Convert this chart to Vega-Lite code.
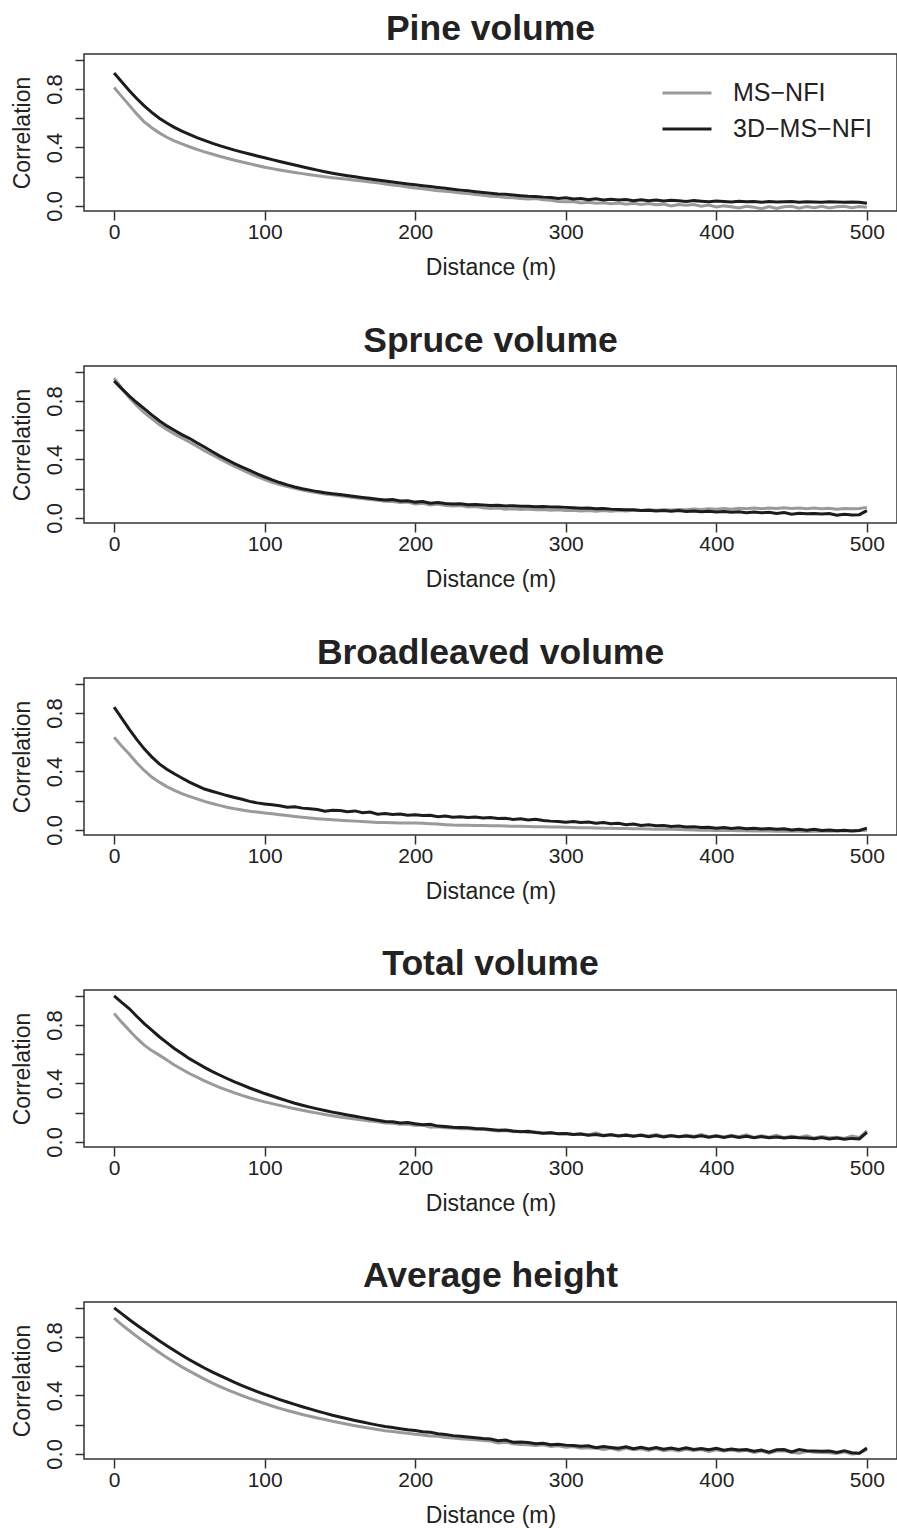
{
  "$schema": "https://vega.github.io/schema/vega-lite/v6.json",
  "padding": {"left": 10, "top": 10, "right": 0, "bottom": 0},
  "background": "white",
  "config": {
    "font": "Liberation Sans",
    "view": {"stroke": "#333333", "strokeWidth": 1.5},
    "axis": {"grid": false, "domain": false, "tickColor": "#333333", "tickWidth": 1.5, "tickSize": 9, "labelColor": "#222222", "titleColor": "#222222", "labelFontSize": 21, "titleFontSize": 23, "titleFontWeight": "normal", "labelFont": "Liberation Sans", "titleFont": "Liberation Sans", "labelFlush": false},
    "title": {"fontSize": 35.5, "fontWeight": "bold", "font": "Liberation Sans", "color": "#222222", "anchor": "middle", "baseline": "alphabetic", "offset": 7},
    "line": {"strokeWidth": 3}
  },
  "spacing": 42,
  "resolve": {"legend": {"color": "independent"}},
  "datasets": {
    "pine": [
      {"d":0,"s":"MS−NFI","r":0.81},{"d":5,"s":"MS−NFI","r":0.75},{"d":10,"s":"MS−NFI","r":0.69},{"d":15,"s":"MS−NFI","r":0.63},{"d":20,"s":"MS−NFI","r":0.575},{"d":25,"s":"MS−NFI","r":0.535},{"d":30,"s":"MS−NFI","r":0.5},{"d":35,"s":"MS−NFI","r":0.47},{"d":40,"s":"MS−NFI","r":0.445},{"d":45,"s":"MS−NFI","r":0.425},{"d":50,"s":"MS−NFI","r":0.405},{"d":55,"s":"MS−NFI","r":0.387},{"d":60,"s":"MS−NFI","r":0.37},{"d":65,"s":"MS−NFI","r":0.355},{"d":70,"s":"MS−NFI","r":0.34},{"d":75,"s":"MS−NFI","r":0.326},{"d":80,"s":"MS−NFI","r":0.312},{"d":85,"s":"MS−NFI","r":0.3},{"d":90,"s":"MS−NFI","r":0.288},{"d":95,"s":"MS−NFI","r":0.276},{"d":100,"s":"MS−NFI","r":0.265},{"d":105,"s":"MS−NFI","r":0.255},{"d":110,"s":"MS−NFI","r":0.246},{"d":115,"s":"MS−NFI","r":0.237},{"d":120,"s":"MS−NFI","r":0.229},{"d":125,"s":"MS−NFI","r":0.221},{"d":130,"s":"MS−NFI","r":0.213},{"d":135,"s":"MS−NFI","r":0.206},{"d":140,"s":"MS−NFI","r":0.199},{"d":145,"s":"MS−NFI","r":0.193},{"d":150,"s":"MS−NFI","r":0.188},{"d":155,"s":"MS−NFI","r":0.182},{"d":160,"s":"MS−NFI","r":0.176},{"d":165,"s":"MS−NFI","r":0.17},{"d":170,"s":"MS−NFI","r":0.163},{"d":175,"s":"MS−NFI","r":0.158},{"d":180,"s":"MS−NFI","r":0.15},{"d":185,"s":"MS−NFI","r":0.143},{"d":190,"s":"MS−NFI","r":0.137},{"d":195,"s":"MS−NFI","r":0.129},{"d":200,"s":"MS−NFI","r":0.122},{"d":205,"s":"MS−NFI","r":0.118},{"d":210,"s":"MS−NFI","r":0.11},{"d":215,"s":"MS−NFI","r":0.104},{"d":220,"s":"MS−NFI","r":0.1},{"d":225,"s":"MS−NFI","r":0.095},{"d":230,"s":"MS−NFI","r":0.088},{"d":235,"s":"MS−NFI","r":0.084},{"d":240,"s":"MS−NFI","r":0.078},{"d":245,"s":"MS−NFI","r":0.072},{"d":250,"s":"MS−NFI","r":0.066},{"d":255,"s":"MS−NFI","r":0.064},{"d":260,"s":"MS−NFI","r":0.058},{"d":265,"s":"MS−NFI","r":0.055},{"d":270,"s":"MS−NFI","r":0.05},{"d":275,"s":"MS−NFI","r":0.048},{"d":280,"s":"MS−NFI","r":0.05},{"d":285,"s":"MS−NFI","r":0.042},{"d":290,"s":"MS−NFI","r":0.038},{"d":295,"s":"MS−NFI","r":0.03},{"d":300,"s":"MS−NFI","r":0.028},{"d":305,"s":"MS−NFI","r":0.03},{"d":310,"s":"MS−NFI","r":0.02},{"d":315,"s":"MS−NFI","r":0.025},{"d":320,"s":"MS−NFI","r":0.018},{"d":325,"s":"MS−NFI","r":0.022},{"d":330,"s":"MS−NFI","r":0.015},{"d":335,"s":"MS−NFI","r":0.02},{"d":340,"s":"MS−NFI","r":0.012},{"d":345,"s":"MS−NFI","r":0.018},{"d":350,"s":"MS−NFI","r":0.01},{"d":355,"s":"MS−NFI","r":0.016},{"d":360,"s":"MS−NFI","r":0.008},{"d":365,"s":"MS−NFI","r":0.012},{"d":370,"s":"MS−NFI","r":0.0},{"d":375,"s":"MS−NFI","r":0.01},{"d":380,"s":"MS−NFI","r":0.004},{"d":385,"s":"MS−NFI","r":0.01},{"d":390,"s":"MS−NFI","r":-0.002},{"d":395,"s":"MS−NFI","r":0.006},{"d":400,"s":"MS−NFI","r":-0.008},{"d":405,"s":"MS−NFI","r":0.0},{"d":410,"s":"MS−NFI","r":-0.006},{"d":415,"s":"MS−NFI","r":-0.015},{"d":420,"s":"MS−NFI","r":-0.002},{"d":425,"s":"MS−NFI","r":-0.01},{"d":430,"s":"MS−NFI","r":-0.02},{"d":435,"s":"MS−NFI","r":-0.004},{"d":440,"s":"MS−NFI","r":-0.018},{"d":445,"s":"MS−NFI","r":-0.006},{"d":450,"s":"MS−NFI","r":-0.002},{"d":455,"s":"MS−NFI","r":-0.016},{"d":460,"s":"MS−NFI","r":-0.005},{"d":465,"s":"MS−NFI","r":-0.012},{"d":470,"s":"MS−NFI","r":-0.002},{"d":475,"s":"MS−NFI","r":-0.014},{"d":480,"s":"MS−NFI","r":-0.006},{"d":485,"s":"MS−NFI","r":-0.002},{"d":490,"s":"MS−NFI","r":-0.012},{"d":495,"s":"MS−NFI","r":-0.004},{"d":500,"s":"MS−NFI","r":-0.01},
      {"d":0,"s":"3D−MS−NFI","r":0.91},{"d":5,"s":"3D−MS−NFI","r":0.85},{"d":10,"s":"3D−MS−NFI","r":0.79},{"d":15,"s":"3D−MS−NFI","r":0.735},{"d":20,"s":"3D−MS−NFI","r":0.685},{"d":25,"s":"3D−MS−NFI","r":0.64},{"d":30,"s":"3D−MS−NFI","r":0.6},{"d":35,"s":"3D−MS−NFI","r":0.567},{"d":40,"s":"3D−MS−NFI","r":0.538},{"d":45,"s":"3D−MS−NFI","r":0.512},{"d":50,"s":"3D−MS−NFI","r":0.49},{"d":55,"s":"3D−MS−NFI","r":0.468},{"d":60,"s":"3D−MS−NFI","r":0.448},{"d":65,"s":"3D−MS−NFI","r":0.43},{"d":70,"s":"3D−MS−NFI","r":0.413},{"d":75,"s":"3D−MS−NFI","r":0.397},{"d":80,"s":"3D−MS−NFI","r":0.382},{"d":85,"s":"3D−MS−NFI","r":0.368},{"d":90,"s":"3D−MS−NFI","r":0.355},{"d":95,"s":"3D−MS−NFI","r":0.342},{"d":100,"s":"3D−MS−NFI","r":0.33},{"d":105,"s":"3D−MS−NFI","r":0.317},{"d":110,"s":"3D−MS−NFI","r":0.304},{"d":115,"s":"3D−MS−NFI","r":0.292},{"d":120,"s":"3D−MS−NFI","r":0.28},{"d":125,"s":"3D−MS−NFI","r":0.268},{"d":130,"s":"3D−MS−NFI","r":0.256},{"d":135,"s":"3D−MS−NFI","r":0.245},{"d":140,"s":"3D−MS−NFI","r":0.234},{"d":145,"s":"3D−MS−NFI","r":0.224},{"d":150,"s":"3D−MS−NFI","r":0.215},{"d":155,"s":"3D−MS−NFI","r":0.207},{"d":160,"s":"3D−MS−NFI","r":0.199},{"d":165,"s":"3D−MS−NFI","r":0.191},{"d":170,"s":"3D−MS−NFI","r":0.184},{"d":175,"s":"3D−MS−NFI","r":0.177},{"d":180,"s":"3D−MS−NFI","r":0.17},{"d":185,"s":"3D−MS−NFI","r":0.163},{"d":190,"s":"3D−MS−NFI","r":0.156},{"d":195,"s":"3D−MS−NFI","r":0.15},{"d":200,"s":"3D−MS−NFI","r":0.144},{"d":205,"s":"3D−MS−NFI","r":0.138},{"d":210,"s":"3D−MS−NFI","r":0.132},{"d":215,"s":"3D−MS−NFI","r":0.126},{"d":220,"s":"3D−MS−NFI","r":0.12},{"d":225,"s":"3D−MS−NFI","r":0.114},{"d":230,"s":"3D−MS−NFI","r":0.108},{"d":235,"s":"3D−MS−NFI","r":0.103},{"d":240,"s":"3D−MS−NFI","r":0.097},{"d":245,"s":"3D−MS−NFI","r":0.092},{"d":250,"s":"3D−MS−NFI","r":0.087},{"d":255,"s":"3D−MS−NFI","r":0.082},{"d":260,"s":"3D−MS−NFI","r":0.079},{"d":265,"s":"3D−MS−NFI","r":0.074},{"d":270,"s":"3D−MS−NFI","r":0.07},{"d":275,"s":"3D−MS−NFI","r":0.066},{"d":280,"s":"3D−MS−NFI","r":0.064},{"d":285,"s":"3D−MS−NFI","r":0.06},{"d":290,"s":"3D−MS−NFI","r":0.058},{"d":295,"s":"3D−MS−NFI","r":0.05},{"d":300,"s":"3D−MS−NFI","r":0.055},{"d":305,"s":"3D−MS−NFI","r":0.048},{"d":310,"s":"3D−MS−NFI","r":0.05},{"d":315,"s":"3D−MS−NFI","r":0.042},{"d":320,"s":"3D−MS−NFI","r":0.048},{"d":325,"s":"3D−MS−NFI","r":0.04},{"d":330,"s":"3D−MS−NFI","r":0.045},{"d":335,"s":"3D−MS−NFI","r":0.04},{"d":340,"s":"3D−MS−NFI","r":0.044},{"d":345,"s":"3D−MS−NFI","r":0.036},{"d":350,"s":"3D−MS−NFI","r":0.042},{"d":355,"s":"3D−MS−NFI","r":0.035},{"d":360,"s":"3D−MS−NFI","r":0.04},{"d":365,"s":"3D−MS−NFI","r":0.033},{"d":370,"s":"3D−MS−NFI","r":0.038},{"d":375,"s":"3D−MS−NFI","r":0.035},{"d":380,"s":"3D−MS−NFI","r":0.03},{"d":385,"s":"3D−MS−NFI","r":0.036},{"d":390,"s":"3D−MS−NFI","r":0.032},{"d":395,"s":"3D−MS−NFI","r":0.028},{"d":400,"s":"3D−MS−NFI","r":0.034},{"d":405,"s":"3D−MS−NFI","r":0.03},{"d":410,"s":"3D−MS−NFI","r":0.026},{"d":415,"s":"3D−MS−NFI","r":0.032},{"d":420,"s":"3D−MS−NFI","r":0.028},{"d":425,"s":"3D−MS−NFI","r":0.03},{"d":430,"s":"3D−MS−NFI","r":0.025},{"d":435,"s":"3D−MS−NFI","r":0.03},{"d":440,"s":"3D−MS−NFI","r":0.026},{"d":445,"s":"3D−MS−NFI","r":0.028},{"d":450,"s":"3D−MS−NFI","r":0.03},{"d":455,"s":"3D−MS−NFI","r":0.025},{"d":460,"s":"3D−MS−NFI","r":0.028},{"d":465,"s":"3D−MS−NFI","r":0.027},{"d":470,"s":"3D−MS−NFI","r":0.025},{"d":475,"s":"3D−MS−NFI","r":0.028},{"d":480,"s":"3D−MS−NFI","r":0.026},{"d":485,"s":"3D−MS−NFI","r":0.025},{"d":490,"s":"3D−MS−NFI","r":0.027},{"d":495,"s":"3D−MS−NFI","r":0.025},{"d":500,"s":"3D−MS−NFI","r":0.018}
    ],
    "spruce": [
      {"d":0,"s":"MS−NFI","r":0.956},{"d":5,"s":"MS−NFI","r":0.89},{"d":10,"s":"MS−NFI","r":0.825},{"d":15,"s":"MS−NFI","r":0.77},{"d":20,"s":"MS−NFI","r":0.72},{"d":25,"s":"MS−NFI","r":0.68},{"d":30,"s":"MS−NFI","r":0.64},{"d":35,"s":"MS−NFI","r":0.605},{"d":40,"s":"MS−NFI","r":0.575},{"d":45,"s":"MS−NFI","r":0.548},{"d":50,"s":"MS−NFI","r":0.52},{"d":55,"s":"MS−NFI","r":0.49},{"d":60,"s":"MS−NFI","r":0.46},{"d":65,"s":"MS−NFI","r":0.432},{"d":70,"s":"MS−NFI","r":0.405},{"d":75,"s":"MS−NFI","r":0.378},{"d":80,"s":"MS−NFI","r":0.352},{"d":85,"s":"MS−NFI","r":0.328},{"d":90,"s":"MS−NFI","r":0.305},{"d":95,"s":"MS−NFI","r":0.283},{"d":100,"s":"MS−NFI","r":0.262},{"d":105,"s":"MS−NFI","r":0.244},{"d":110,"s":"MS−NFI","r":0.228},{"d":115,"s":"MS−NFI","r":0.214},{"d":120,"s":"MS−NFI","r":0.202},{"d":125,"s":"MS−NFI","r":0.19},{"d":130,"s":"MS−NFI","r":0.18},{"d":135,"s":"MS−NFI","r":0.172},{"d":140,"s":"MS−NFI","r":0.164},{"d":145,"s":"MS−NFI","r":0.158},{"d":150,"s":"MS−NFI","r":0.152},{"d":155,"s":"MS−NFI","r":0.145},{"d":160,"s":"MS−NFI","r":0.138},{"d":165,"s":"MS−NFI","r":0.132},{"d":170,"s":"MS−NFI","r":0.126},{"d":175,"s":"MS−NFI","r":0.12},{"d":180,"s":"MS−NFI","r":0.114},{"d":185,"s":"MS−NFI","r":0.112},{"d":190,"s":"MS−NFI","r":0.105},{"d":195,"s":"MS−NFI","r":0.108},{"d":200,"s":"MS−NFI","r":0.096},{"d":205,"s":"MS−NFI","r":0.1},{"d":210,"s":"MS−NFI","r":0.088},{"d":215,"s":"MS−NFI","r":0.095},{"d":220,"s":"MS−NFI","r":0.085},{"d":225,"s":"MS−NFI","r":0.082},{"d":230,"s":"MS−NFI","r":0.085},{"d":235,"s":"MS−NFI","r":0.075},{"d":240,"s":"MS−NFI","r":0.078},{"d":245,"s":"MS−NFI","r":0.07},{"d":250,"s":"MS−NFI","r":0.065},{"d":255,"s":"MS−NFI","r":0.068},{"d":260,"s":"MS−NFI","r":0.06},{"d":265,"s":"MS−NFI","r":0.063},{"d":270,"s":"MS−NFI","r":0.058},{"d":275,"s":"MS−NFI","r":0.06},{"d":280,"s":"MS−NFI","r":0.055},{"d":285,"s":"MS−NFI","r":0.057},{"d":290,"s":"MS−NFI","r":0.052},{"d":295,"s":"MS−NFI","r":0.055},{"d":300,"s":"MS−NFI","r":0.05},{"d":305,"s":"MS−NFI","r":0.052},{"d":310,"s":"MS−NFI","r":0.048},{"d":315,"s":"MS−NFI","r":0.05},{"d":320,"s":"MS−NFI","r":0.046},{"d":325,"s":"MS−NFI","r":0.05},{"d":330,"s":"MS−NFI","r":0.045},{"d":335,"s":"MS−NFI","r":0.05},{"d":340,"s":"MS−NFI","r":0.048},{"d":345,"s":"MS−NFI","r":0.052},{"d":350,"s":"MS−NFI","r":0.05},{"d":355,"s":"MS−NFI","r":0.055},{"d":360,"s":"MS−NFI","r":0.052},{"d":365,"s":"MS−NFI","r":0.056},{"d":370,"s":"MS−NFI","r":0.054},{"d":375,"s":"MS−NFI","r":0.058},{"d":380,"s":"MS−NFI","r":0.056},{"d":385,"s":"MS−NFI","r":0.06},{"d":390,"s":"MS−NFI","r":0.058},{"d":395,"s":"MS−NFI","r":0.062},{"d":400,"s":"MS−NFI","r":0.06},{"d":405,"s":"MS−NFI","r":0.065},{"d":410,"s":"MS−NFI","r":0.06},{"d":415,"s":"MS−NFI","r":0.066},{"d":420,"s":"MS−NFI","r":0.063},{"d":425,"s":"MS−NFI","r":0.067},{"d":430,"s":"MS−NFI","r":0.062},{"d":435,"s":"MS−NFI","r":0.068},{"d":440,"s":"MS−NFI","r":0.064},{"d":445,"s":"MS−NFI","r":0.07},{"d":450,"s":"MS−NFI","r":0.065},{"d":455,"s":"MS−NFI","r":0.068},{"d":460,"s":"MS−NFI","r":0.063},{"d":465,"s":"MS−NFI","r":0.067},{"d":470,"s":"MS−NFI","r":0.062},{"d":475,"s":"MS−NFI","r":0.066},{"d":480,"s":"MS−NFI","r":0.06},{"d":485,"s":"MS−NFI","r":0.064},{"d":490,"s":"MS−NFI","r":0.062},{"d":495,"s":"MS−NFI","r":0.065},{"d":500,"s":"MS−NFI","r":0.072},
      {"d":0,"s":"3D−MS−NFI","r":0.937},{"d":5,"s":"3D−MS−NFI","r":0.885},{"d":10,"s":"3D−MS−NFI","r":0.835},{"d":15,"s":"3D−MS−NFI","r":0.79},{"d":20,"s":"3D−MS−NFI","r":0.748},{"d":25,"s":"3D−MS−NFI","r":0.705},{"d":30,"s":"3D−MS−NFI","r":0.665},{"d":35,"s":"3D−MS−NFI","r":0.63},{"d":40,"s":"3D−MS−NFI","r":0.6},{"d":45,"s":"3D−MS−NFI","r":0.57},{"d":50,"s":"3D−MS−NFI","r":0.545},{"d":55,"s":"3D−MS−NFI","r":0.515},{"d":60,"s":"3D−MS−NFI","r":0.485},{"d":65,"s":"3D−MS−NFI","r":0.455},{"d":70,"s":"3D−MS−NFI","r":0.425},{"d":75,"s":"3D−MS−NFI","r":0.398},{"d":80,"s":"3D−MS−NFI","r":0.372},{"d":85,"s":"3D−MS−NFI","r":0.348},{"d":90,"s":"3D−MS−NFI","r":0.325},{"d":95,"s":"3D−MS−NFI","r":0.302},{"d":100,"s":"3D−MS−NFI","r":0.28},{"d":105,"s":"3D−MS−NFI","r":0.26},{"d":110,"s":"3D−MS−NFI","r":0.242},{"d":115,"s":"3D−MS−NFI","r":0.226},{"d":120,"s":"3D−MS−NFI","r":0.212},{"d":125,"s":"3D−MS−NFI","r":0.2},{"d":130,"s":"3D−MS−NFI","r":0.19},{"d":135,"s":"3D−MS−NFI","r":0.18},{"d":140,"s":"3D−MS−NFI","r":0.172},{"d":145,"s":"3D−MS−NFI","r":0.166},{"d":150,"s":"3D−MS−NFI","r":0.16},{"d":155,"s":"3D−MS−NFI","r":0.153},{"d":160,"s":"3D−MS−NFI","r":0.146},{"d":165,"s":"3D−MS−NFI","r":0.14},{"d":170,"s":"3D−MS−NFI","r":0.134},{"d":175,"s":"3D−MS−NFI","r":0.128},{"d":180,"s":"3D−MS−NFI","r":0.122},{"d":185,"s":"3D−MS−NFI","r":0.125},{"d":190,"s":"3D−MS−NFI","r":0.115},{"d":195,"s":"3D−MS−NFI","r":0.118},{"d":200,"s":"3D−MS−NFI","r":0.108},{"d":205,"s":"3D−MS−NFI","r":0.112},{"d":210,"s":"3D−MS−NFI","r":0.1},{"d":215,"s":"3D−MS−NFI","r":0.105},{"d":220,"s":"3D−MS−NFI","r":0.098},{"d":225,"s":"3D−MS−NFI","r":0.095},{"d":230,"s":"3D−MS−NFI","r":0.097},{"d":235,"s":"3D−MS−NFI","r":0.09},{"d":240,"s":"3D−MS−NFI","r":0.092},{"d":245,"s":"3D−MS−NFI","r":0.088},{"d":250,"s":"3D−MS−NFI","r":0.085},{"d":255,"s":"3D−MS−NFI","r":0.087},{"d":260,"s":"3D−MS−NFI","r":0.082},{"d":265,"s":"3D−MS−NFI","r":0.083},{"d":270,"s":"3D−MS−NFI","r":0.079},{"d":275,"s":"3D−MS−NFI","r":0.08},{"d":280,"s":"3D−MS−NFI","r":0.077},{"d":285,"s":"3D−MS−NFI","r":0.078},{"d":290,"s":"3D−MS−NFI","r":0.074},{"d":295,"s":"3D−MS−NFI","r":0.075},{"d":300,"s":"3D−MS−NFI","r":0.072},{"d":305,"s":"3D−MS−NFI","r":0.07},{"d":310,"s":"3D−MS−NFI","r":0.066},{"d":315,"s":"3D−MS−NFI","r":0.068},{"d":320,"s":"3D−MS−NFI","r":0.063},{"d":325,"s":"3D−MS−NFI","r":0.065},{"d":330,"s":"3D−MS−NFI","r":0.06},{"d":335,"s":"3D−MS−NFI","r":0.058},{"d":340,"s":"3D−MS−NFI","r":0.055},{"d":345,"s":"3D−MS−NFI","r":0.056},{"d":350,"s":"3D−MS−NFI","r":0.05},{"d":355,"s":"3D−MS−NFI","r":0.053},{"d":360,"s":"3D−MS−NFI","r":0.048},{"d":365,"s":"3D−MS−NFI","r":0.05},{"d":370,"s":"3D−MS−NFI","r":0.046},{"d":375,"s":"3D−MS−NFI","r":0.05},{"d":380,"s":"3D−MS−NFI","r":0.044},{"d":385,"s":"3D−MS−NFI","r":0.047},{"d":390,"s":"3D−MS−NFI","r":0.042},{"d":395,"s":"3D−MS−NFI","r":0.045},{"d":400,"s":"3D−MS−NFI","r":0.04},{"d":405,"s":"3D−MS−NFI","r":0.044},{"d":410,"s":"3D−MS−NFI","r":0.038},{"d":415,"s":"3D−MS−NFI","r":0.042},{"d":420,"s":"3D−MS−NFI","r":0.036},{"d":425,"s":"3D−MS−NFI","r":0.04},{"d":430,"s":"3D−MS−NFI","r":0.035},{"d":435,"s":"3D−MS−NFI","r":0.038},{"d":440,"s":"3D−MS−NFI","r":0.03},{"d":445,"s":"3D−MS−NFI","r":0.036},{"d":450,"s":"3D−MS−NFI","r":0.025},{"d":455,"s":"3D−MS−NFI","r":0.032},{"d":460,"s":"3D−MS−NFI","r":0.028},{"d":465,"s":"3D−MS−NFI","r":0.03},{"d":470,"s":"3D−MS−NFI","r":0.026},{"d":475,"s":"3D−MS−NFI","r":0.03},{"d":480,"s":"3D−MS−NFI","r":0.018},{"d":485,"s":"3D−MS−NFI","r":0.025},{"d":490,"s":"3D−MS−NFI","r":0.02},{"d":495,"s":"3D−MS−NFI","r":0.022},{"d":500,"s":"3D−MS−NFI","r":0.05}
    ],
    "broad": [
      {"d":0,"s":"MS−NFI","r":0.635},{"d":5,"s":"MS−NFI","r":0.575},{"d":10,"s":"MS−NFI","r":0.52},{"d":15,"s":"MS−NFI","r":0.46},{"d":20,"s":"MS−NFI","r":0.407},{"d":25,"s":"MS−NFI","r":0.362},{"d":30,"s":"MS−NFI","r":0.327},{"d":35,"s":"MS−NFI","r":0.296},{"d":40,"s":"MS−NFI","r":0.27},{"d":45,"s":"MS−NFI","r":0.248},{"d":50,"s":"MS−NFI","r":0.23},{"d":55,"s":"MS−NFI","r":0.212},{"d":60,"s":"MS−NFI","r":0.195},{"d":65,"s":"MS−NFI","r":0.181},{"d":70,"s":"MS−NFI","r":0.168},{"d":75,"s":"MS−NFI","r":0.155},{"d":80,"s":"MS−NFI","r":0.145},{"d":85,"s":"MS−NFI","r":0.136},{"d":90,"s":"MS−NFI","r":0.128},{"d":95,"s":"MS−NFI","r":0.122},{"d":100,"s":"MS−NFI","r":0.116},{"d":105,"s":"MS−NFI","r":0.11},{"d":110,"s":"MS−NFI","r":0.104},{"d":115,"s":"MS−NFI","r":0.098},{"d":120,"s":"MS−NFI","r":0.092},{"d":125,"s":"MS−NFI","r":0.087},{"d":130,"s":"MS−NFI","r":0.082},{"d":135,"s":"MS−NFI","r":0.077},{"d":140,"s":"MS−NFI","r":0.073},{"d":145,"s":"MS−NFI","r":0.069},{"d":150,"s":"MS−NFI","r":0.066},{"d":155,"s":"MS−NFI","r":0.063},{"d":160,"s":"MS−NFI","r":0.06},{"d":165,"s":"MS−NFI","r":0.057},{"d":170,"s":"MS−NFI","r":0.054},{"d":175,"s":"MS−NFI","r":0.051},{"d":180,"s":"MS−NFI","r":0.05},{"d":185,"s":"MS−NFI","r":0.049},{"d":190,"s":"MS−NFI","r":0.048},{"d":195,"s":"MS−NFI","r":0.048},{"d":200,"s":"MS−NFI","r":0.047},{"d":205,"s":"MS−NFI","r":0.045},{"d":210,"s":"MS−NFI","r":0.042},{"d":215,"s":"MS−NFI","r":0.04},{"d":220,"s":"MS−NFI","r":0.036},{"d":225,"s":"MS−NFI","r":0.033},{"d":230,"s":"MS−NFI","r":0.032},{"d":235,"s":"MS−NFI","r":0.031},{"d":240,"s":"MS−NFI","r":0.03},{"d":245,"s":"MS−NFI","r":0.03},{"d":250,"s":"MS−NFI","r":0.029},{"d":255,"s":"MS−NFI","r":0.028},{"d":260,"s":"MS−NFI","r":0.026},{"d":265,"s":"MS−NFI","r":0.025},{"d":270,"s":"MS−NFI","r":0.025},{"d":275,"s":"MS−NFI","r":0.024},{"d":280,"s":"MS−NFI","r":0.022},{"d":285,"s":"MS−NFI","r":0.021},{"d":290,"s":"MS−NFI","r":0.02},{"d":295,"s":"MS−NFI","r":0.019},{"d":300,"s":"MS−NFI","r":0.018},{"d":305,"s":"MS−NFI","r":0.016},{"d":310,"s":"MS−NFI","r":0.015},{"d":315,"s":"MS−NFI","r":0.014},{"d":320,"s":"MS−NFI","r":0.013},{"d":325,"s":"MS−NFI","r":0.012},{"d":330,"s":"MS−NFI","r":0.011},{"d":335,"s":"MS−NFI","r":0.01},{"d":340,"s":"MS−NFI","r":0.009},{"d":345,"s":"MS−NFI","r":0.008},{"d":350,"s":"MS−NFI","r":0.007},{"d":355,"s":"MS−NFI","r":0.006},{"d":360,"s":"MS−NFI","r":0.005},{"d":365,"s":"MS−NFI","r":0.004},{"d":370,"s":"MS−NFI","r":0.004},{"d":375,"s":"MS−NFI","r":0.002},{"d":380,"s":"MS−NFI","r":0.001},{"d":385,"s":"MS−NFI","r":0.0},{"d":390,"s":"MS−NFI","r":-0.002},{"d":395,"s":"MS−NFI","r":-0.002},{"d":400,"s":"MS−NFI","r":-0.004},{"d":405,"s":"MS−NFI","r":-0.005},{"d":410,"s":"MS−NFI","r":-0.004},{"d":415,"s":"MS−NFI","r":-0.006},{"d":420,"s":"MS−NFI","r":-0.006},{"d":425,"s":"MS−NFI","r":-0.007},{"d":430,"s":"MS−NFI","r":-0.008},{"d":435,"s":"MS−NFI","r":-0.008},{"d":440,"s":"MS−NFI","r":-0.009},{"d":445,"s":"MS−NFI","r":-0.01},{"d":450,"s":"MS−NFI","r":-0.01},{"d":455,"s":"MS−NFI","r":-0.01},{"d":460,"s":"MS−NFI","r":-0.011},{"d":465,"s":"MS−NFI","r":-0.01},{"d":470,"s":"MS−NFI","r":-0.009},{"d":475,"s":"MS−NFI","r":-0.009},{"d":480,"s":"MS−NFI","r":-0.008},{"d":485,"s":"MS−NFI","r":-0.007},{"d":490,"s":"MS−NFI","r":-0.006},{"d":495,"s":"MS−NFI","r":-0.005},{"d":500,"s":"MS−NFI","r":-0.003},
      {"d":0,"s":"3D−MS−NFI","r":0.84},{"d":5,"s":"3D−MS−NFI","r":0.765},{"d":10,"s":"3D−MS−NFI","r":0.69},{"d":15,"s":"3D−MS−NFI","r":0.62},{"d":20,"s":"3D−MS−NFI","r":0.555},{"d":25,"s":"3D−MS−NFI","r":0.5},{"d":30,"s":"3D−MS−NFI","r":0.452},{"d":35,"s":"3D−MS−NFI","r":0.415},{"d":40,"s":"3D−MS−NFI","r":0.384},{"d":45,"s":"3D−MS−NFI","r":0.355},{"d":50,"s":"3D−MS−NFI","r":0.327},{"d":55,"s":"3D−MS−NFI","r":0.303},{"d":60,"s":"3D−MS−NFI","r":0.28},{"d":65,"s":"3D−MS−NFI","r":0.265},{"d":70,"s":"3D−MS−NFI","r":0.25},{"d":75,"s":"3D−MS−NFI","r":0.235},{"d":80,"s":"3D−MS−NFI","r":0.222},{"d":85,"s":"3D−MS−NFI","r":0.21},{"d":90,"s":"3D−MS−NFI","r":0.195},{"d":95,"s":"3D−MS−NFI","r":0.185},{"d":100,"s":"3D−MS−NFI","r":0.178},{"d":105,"s":"3D−MS−NFI","r":0.172},{"d":110,"s":"3D−MS−NFI","r":0.165},{"d":115,"s":"3D−MS−NFI","r":0.155},{"d":120,"s":"3D−MS−NFI","r":0.158},{"d":125,"s":"3D−MS−NFI","r":0.149},{"d":130,"s":"3D−MS−NFI","r":0.145},{"d":135,"s":"3D−MS−NFI","r":0.14},{"d":140,"s":"3D−MS−NFI","r":0.128},{"d":145,"s":"3D−MS−NFI","r":0.135},{"d":150,"s":"3D−MS−NFI","r":0.133},{"d":155,"s":"3D−MS−NFI","r":0.125},{"d":160,"s":"3D−MS−NFI","r":0.13},{"d":165,"s":"3D−MS−NFI","r":0.118},{"d":170,"s":"3D−MS−NFI","r":0.122},{"d":175,"s":"3D−MS−NFI","r":0.107},{"d":180,"s":"3D−MS−NFI","r":0.112},{"d":185,"s":"3D−MS−NFI","r":0.105},{"d":190,"s":"3D−MS−NFI","r":0.108},{"d":195,"s":"3D−MS−NFI","r":0.1},{"d":200,"s":"3D−MS−NFI","r":0.103},{"d":205,"s":"3D−MS−NFI","r":0.098},{"d":210,"s":"3D−MS−NFI","r":0.1},{"d":215,"s":"3D−MS−NFI","r":0.09},{"d":220,"s":"3D−MS−NFI","r":0.095},{"d":225,"s":"3D−MS−NFI","r":0.087},{"d":230,"s":"3D−MS−NFI","r":0.09},{"d":235,"s":"3D−MS−NFI","r":0.085},{"d":240,"s":"3D−MS−NFI","r":0.088},{"d":245,"s":"3D−MS−NFI","r":0.082},{"d":250,"s":"3D−MS−NFI","r":0.084},{"d":255,"s":"3D−MS−NFI","r":0.078},{"d":260,"s":"3D−MS−NFI","r":0.08},{"d":265,"s":"3D−MS−NFI","r":0.072},{"d":270,"s":"3D−MS−NFI","r":0.076},{"d":275,"s":"3D−MS−NFI","r":0.068},{"d":280,"s":"3D−MS−NFI","r":0.072},{"d":285,"s":"3D−MS−NFI","r":0.064},{"d":290,"s":"3D−MS−NFI","r":0.06},{"d":295,"s":"3D−MS−NFI","r":0.058},{"d":300,"s":"3D−MS−NFI","r":0.053},{"d":305,"s":"3D−MS−NFI","r":0.058},{"d":310,"s":"3D−MS−NFI","r":0.05},{"d":315,"s":"3D−MS−NFI","r":0.054},{"d":320,"s":"3D−MS−NFI","r":0.046},{"d":325,"s":"3D−MS−NFI","r":0.05},{"d":330,"s":"3D−MS−NFI","r":0.042},{"d":335,"s":"3D−MS−NFI","r":0.045},{"d":340,"s":"3D−MS−NFI","r":0.035},{"d":345,"s":"3D−MS−NFI","r":0.04},{"d":350,"s":"3D−MS−NFI","r":0.03},{"d":355,"s":"3D−MS−NFI","r":0.035},{"d":360,"s":"3D−MS−NFI","r":0.028},{"d":365,"s":"3D−MS−NFI","r":0.03},{"d":370,"s":"3D−MS−NFI","r":0.024},{"d":375,"s":"3D−MS−NFI","r":0.026},{"d":380,"s":"3D−MS−NFI","r":0.02},{"d":385,"s":"3D−MS−NFI","r":0.022},{"d":390,"s":"3D−MS−NFI","r":0.016},{"d":395,"s":"3D−MS−NFI","r":0.018},{"d":400,"s":"3D−MS−NFI","r":0.012},{"d":405,"s":"3D−MS−NFI","r":0.016},{"d":410,"s":"3D−MS−NFI","r":0.01},{"d":415,"s":"3D−MS−NFI","r":0.014},{"d":420,"s":"3D−MS−NFI","r":0.008},{"d":425,"s":"3D−MS−NFI","r":0.012},{"d":430,"s":"3D−MS−NFI","r":0.006},{"d":435,"s":"3D−MS−NFI","r":0.01},{"d":440,"s":"3D−MS−NFI","r":0.004},{"d":445,"s":"3D−MS−NFI","r":0.008},{"d":450,"s":"3D−MS−NFI","r":0.0},{"d":455,"s":"3D−MS−NFI","r":0.004},{"d":460,"s":"3D−MS−NFI","r":-0.002},{"d":465,"s":"3D−MS−NFI","r":0.004},{"d":470,"s":"3D−MS−NFI","r":-0.004},{"d":475,"s":"3D−MS−NFI","r":0.0},{"d":480,"s":"3D−MS−NFI","r":-0.006},{"d":485,"s":"3D−MS−NFI","r":-0.002},{"d":490,"s":"3D−MS−NFI","r":-0.008},{"d":495,"s":"3D−MS−NFI","r":-0.004},{"d":500,"s":"3D−MS−NFI","r":0.012}
    ],
    "total": [
      {"d":0,"s":"MS−NFI","r":0.879},{"d":5,"s":"MS−NFI","r":0.82},{"d":10,"s":"MS−NFI","r":0.765},{"d":15,"s":"MS−NFI","r":0.71},{"d":20,"s":"MS−NFI","r":0.662},{"d":25,"s":"MS−NFI","r":0.625},{"d":30,"s":"MS−NFI","r":0.594},{"d":35,"s":"MS−NFI","r":0.56},{"d":40,"s":"MS−NFI","r":0.527},{"d":45,"s":"MS−NFI","r":0.497},{"d":50,"s":"MS−NFI","r":0.468},{"d":55,"s":"MS−NFI","r":0.443},{"d":60,"s":"MS−NFI","r":0.418},{"d":65,"s":"MS−NFI","r":0.395},{"d":70,"s":"MS−NFI","r":0.374},{"d":75,"s":"MS−NFI","r":0.354},{"d":80,"s":"MS−NFI","r":0.336},{"d":85,"s":"MS−NFI","r":0.318},{"d":90,"s":"MS−NFI","r":0.302},{"d":95,"s":"MS−NFI","r":0.288},{"d":100,"s":"MS−NFI","r":0.274},{"d":105,"s":"MS−NFI","r":0.262},{"d":110,"s":"MS−NFI","r":0.25},{"d":115,"s":"MS−NFI","r":0.238},{"d":120,"s":"MS−NFI","r":0.227},{"d":125,"s":"MS−NFI","r":0.217},{"d":130,"s":"MS−NFI","r":0.207},{"d":135,"s":"MS−NFI","r":0.197},{"d":140,"s":"MS−NFI","r":0.188},{"d":145,"s":"MS−NFI","r":0.179},{"d":150,"s":"MS−NFI","r":0.171},{"d":155,"s":"MS−NFI","r":0.164},{"d":160,"s":"MS−NFI","r":0.157},{"d":165,"s":"MS−NFI","r":0.15},{"d":170,"s":"MS−NFI","r":0.143},{"d":175,"s":"MS−NFI","r":0.137},{"d":180,"s":"MS−NFI","r":0.13},{"d":185,"s":"MS−NFI","r":0.128},{"d":190,"s":"MS−NFI","r":0.12},{"d":195,"s":"MS−NFI","r":0.122},{"d":200,"s":"MS−NFI","r":0.112},{"d":205,"s":"MS−NFI","r":0.115},{"d":210,"s":"MS−NFI","r":0.1},{"d":215,"s":"MS−NFI","r":0.104},{"d":220,"s":"MS−NFI","r":0.096},{"d":225,"s":"MS−NFI","r":0.095},{"d":230,"s":"MS−NFI","r":0.09},{"d":235,"s":"MS−NFI","r":0.092},{"d":240,"s":"MS−NFI","r":0.085},{"d":245,"s":"MS−NFI","r":0.087},{"d":250,"s":"MS−NFI","r":0.08},{"d":255,"s":"MS−NFI","r":0.075},{"d":260,"s":"MS−NFI","r":0.078},{"d":265,"s":"MS−NFI","r":0.07},{"d":270,"s":"MS−NFI","r":0.072},{"d":275,"s":"MS−NFI","r":0.065},{"d":280,"s":"MS−NFI","r":0.068},{"d":285,"s":"MS−NFI","r":0.06},{"d":290,"s":"MS−NFI","r":0.063},{"d":295,"s":"MS−NFI","r":0.056},{"d":300,"s":"MS−NFI","r":0.058},{"d":305,"s":"MS−NFI","r":0.05},{"d":310,"s":"MS−NFI","r":0.056},{"d":315,"s":"MS−NFI","r":0.048},{"d":320,"s":"MS−NFI","r":0.062},{"d":325,"s":"MS−NFI","r":0.045},{"d":330,"s":"MS−NFI","r":0.05},{"d":335,"s":"MS−NFI","r":0.042},{"d":340,"s":"MS−NFI","r":0.05},{"d":345,"s":"MS−NFI","r":0.04},{"d":350,"s":"MS−NFI","r":0.048},{"d":355,"s":"MS−NFI","r":0.04},{"d":360,"s":"MS−NFI","r":0.05},{"d":365,"s":"MS−NFI","r":0.038},{"d":370,"s":"MS−NFI","r":0.046},{"d":375,"s":"MS−NFI","r":0.036},{"d":380,"s":"MS−NFI","r":0.045},{"d":385,"s":"MS−NFI","r":0.038},{"d":390,"s":"MS−NFI","r":0.05},{"d":395,"s":"MS−NFI","r":0.036},{"d":400,"s":"MS−NFI","r":0.044},{"d":405,"s":"MS−NFI","r":0.034},{"d":410,"s":"MS−NFI","r":0.045},{"d":415,"s":"MS−NFI","r":0.036},{"d":420,"s":"MS−NFI","r":0.048},{"d":425,"s":"MS−NFI","r":0.03},{"d":430,"s":"MS−NFI","r":0.042},{"d":435,"s":"MS−NFI","r":0.032},{"d":440,"s":"MS−NFI","r":0.045},{"d":445,"s":"MS−NFI","r":0.028},{"d":450,"s":"MS−NFI","r":0.04},{"d":455,"s":"MS−NFI","r":0.03},{"d":460,"s":"MS−NFI","r":0.042},{"d":465,"s":"MS−NFI","r":0.026},{"d":470,"s":"MS−NFI","r":0.036},{"d":475,"s":"MS−NFI","r":0.028},{"d":480,"s":"MS−NFI","r":0.032},{"d":485,"s":"MS−NFI","r":0.024},{"d":490,"s":"MS−NFI","r":0.04},{"d":495,"s":"MS−NFI","r":0.03},{"d":500,"s":"MS−NFI","r":0.075},
      {"d":0,"s":"3D−MS−NFI","r":1.0},{"d":5,"s":"3D−MS−NFI","r":0.955},{"d":10,"s":"3D−MS−NFI","r":0.913},{"d":15,"s":"3D−MS−NFI","r":0.86},{"d":20,"s":"3D−MS−NFI","r":0.81},{"d":25,"s":"3D−MS−NFI","r":0.765},{"d":30,"s":"3D−MS−NFI","r":0.72},{"d":35,"s":"3D−MS−NFI","r":0.68},{"d":40,"s":"3D−MS−NFI","r":0.64},{"d":45,"s":"3D−MS−NFI","r":0.605},{"d":50,"s":"3D−MS−NFI","r":0.57},{"d":55,"s":"3D−MS−NFI","r":0.54},{"d":60,"s":"3D−MS−NFI","r":0.51},{"d":65,"s":"3D−MS−NFI","r":0.483},{"d":70,"s":"3D−MS−NFI","r":0.458},{"d":75,"s":"3D−MS−NFI","r":0.434},{"d":80,"s":"3D−MS−NFI","r":0.411},{"d":85,"s":"3D−MS−NFI","r":0.39},{"d":90,"s":"3D−MS−NFI","r":0.369},{"d":95,"s":"3D−MS−NFI","r":0.35},{"d":100,"s":"3D−MS−NFI","r":0.331},{"d":105,"s":"3D−MS−NFI","r":0.314},{"d":110,"s":"3D−MS−NFI","r":0.297},{"d":115,"s":"3D−MS−NFI","r":0.281},{"d":120,"s":"3D−MS−NFI","r":0.265},{"d":125,"s":"3D−MS−NFI","r":0.251},{"d":130,"s":"3D−MS−NFI","r":0.238},{"d":135,"s":"3D−MS−NFI","r":0.226},{"d":140,"s":"3D−MS−NFI","r":0.215},{"d":145,"s":"3D−MS−NFI","r":0.204},{"d":150,"s":"3D−MS−NFI","r":0.194},{"d":155,"s":"3D−MS−NFI","r":0.184},{"d":160,"s":"3D−MS−NFI","r":0.175},{"d":165,"s":"3D−MS−NFI","r":0.166},{"d":170,"s":"3D−MS−NFI","r":0.157},{"d":175,"s":"3D−MS−NFI","r":0.148},{"d":180,"s":"3D−MS−NFI","r":0.14},{"d":185,"s":"3D−MS−NFI","r":0.138},{"d":190,"s":"3D−MS−NFI","r":0.13},{"d":195,"s":"3D−MS−NFI","r":0.132},{"d":200,"s":"3D−MS−NFI","r":0.124},{"d":205,"s":"3D−MS−NFI","r":0.118},{"d":210,"s":"3D−MS−NFI","r":0.12},{"d":215,"s":"3D−MS−NFI","r":0.108},{"d":220,"s":"3D−MS−NFI","r":0.105},{"d":225,"s":"3D−MS−NFI","r":0.1},{"d":230,"s":"3D−MS−NFI","r":0.098},{"d":235,"s":"3D−MS−NFI","r":0.096},{"d":240,"s":"3D−MS−NFI","r":0.092},{"d":245,"s":"3D−MS−NFI","r":0.09},{"d":250,"s":"3D−MS−NFI","r":0.085},{"d":255,"s":"3D−MS−NFI","r":0.08},{"d":260,"s":"3D−MS−NFI","r":0.082},{"d":265,"s":"3D−MS−NFI","r":0.075},{"d":270,"s":"3D−MS−NFI","r":0.07},{"d":275,"s":"3D−MS−NFI","r":0.072},{"d":280,"s":"3D−MS−NFI","r":0.065},{"d":285,"s":"3D−MS−NFI","r":0.06},{"d":290,"s":"3D−MS−NFI","r":0.062},{"d":295,"s":"3D−MS−NFI","r":0.055},{"d":300,"s":"3D−MS−NFI","r":0.058},{"d":305,"s":"3D−MS−NFI","r":0.05},{"d":310,"s":"3D−MS−NFI","r":0.054},{"d":315,"s":"3D−MS−NFI","r":0.046},{"d":320,"s":"3D−MS−NFI","r":0.05},{"d":325,"s":"3D−MS−NFI","r":0.042},{"d":330,"s":"3D−MS−NFI","r":0.048},{"d":335,"s":"3D−MS−NFI","r":0.04},{"d":340,"s":"3D−MS−NFI","r":0.046},{"d":345,"s":"3D−MS−NFI","r":0.038},{"d":350,"s":"3D−MS−NFI","r":0.045},{"d":355,"s":"3D−MS−NFI","r":0.036},{"d":360,"s":"3D−MS−NFI","r":0.044},{"d":365,"s":"3D−MS−NFI","r":0.034},{"d":370,"s":"3D−MS−NFI","r":0.042},{"d":375,"s":"3D−MS−NFI","r":0.035},{"d":380,"s":"3D−MS−NFI","r":0.04},{"d":385,"s":"3D−MS−NFI","r":0.033},{"d":390,"s":"3D−MS−NFI","r":0.042},{"d":395,"s":"3D−MS−NFI","r":0.032},{"d":400,"s":"3D−MS−NFI","r":0.04},{"d":405,"s":"3D−MS−NFI","r":0.03},{"d":410,"s":"3D−MS−NFI","r":0.04},{"d":415,"s":"3D−MS−NFI","r":0.03},{"d":420,"s":"3D−MS−NFI","r":0.038},{"d":425,"s":"3D−MS−NFI","r":0.028},{"d":430,"s":"3D−MS−NFI","r":0.036},{"d":435,"s":"3D−MS−NFI","r":0.028},{"d":440,"s":"3D−MS−NFI","r":0.034},{"d":445,"s":"3D−MS−NFI","r":0.026},{"d":450,"s":"3D−MS−NFI","r":0.032},{"d":455,"s":"3D−MS−NFI","r":0.028},{"d":460,"s":"3D−MS−NFI","r":0.026},{"d":465,"s":"3D−MS−NFI","r":0.022},{"d":470,"s":"3D−MS−NFI","r":0.03},{"d":475,"s":"3D−MS−NFI","r":0.02},{"d":480,"s":"3D−MS−NFI","r":0.026},{"d":485,"s":"3D−MS−NFI","r":0.018},{"d":490,"s":"3D−MS−NFI","r":0.024},{"d":495,"s":"3D−MS−NFI","r":0.02},{"d":500,"s":"3D−MS−NFI","r":0.065}
    ],
    "height": [
      {"d":0,"s":"MS−NFI","r":0.93},{"d":5,"s":"MS−NFI","r":0.885},{"d":10,"s":"MS−NFI","r":0.845},{"d":15,"s":"MS−NFI","r":0.805},{"d":20,"s":"MS−NFI","r":0.767},{"d":25,"s":"MS−NFI","r":0.73},{"d":30,"s":"MS−NFI","r":0.694},{"d":35,"s":"MS−NFI","r":0.66},{"d":40,"s":"MS−NFI","r":0.627},{"d":45,"s":"MS−NFI","r":0.596},{"d":50,"s":"MS−NFI","r":0.567},{"d":55,"s":"MS−NFI","r":0.539},{"d":60,"s":"MS−NFI","r":0.512},{"d":65,"s":"MS−NFI","r":0.486},{"d":70,"s":"MS−NFI","r":0.462},{"d":75,"s":"MS−NFI","r":0.44},{"d":80,"s":"MS−NFI","r":0.419},{"d":85,"s":"MS−NFI","r":0.399},{"d":90,"s":"MS−NFI","r":0.38},{"d":95,"s":"MS−NFI","r":0.362},{"d":100,"s":"MS−NFI","r":0.345},{"d":105,"s":"MS−NFI","r":0.328},{"d":110,"s":"MS−NFI","r":0.312},{"d":115,"s":"MS−NFI","r":0.297},{"d":120,"s":"MS−NFI","r":0.283},{"d":125,"s":"MS−NFI","r":0.27},{"d":130,"s":"MS−NFI","r":0.258},{"d":135,"s":"MS−NFI","r":0.246},{"d":140,"s":"MS−NFI","r":0.235},{"d":145,"s":"MS−NFI","r":0.224},{"d":150,"s":"MS−NFI","r":0.213},{"d":155,"s":"MS−NFI","r":0.203},{"d":160,"s":"MS−NFI","r":0.193},{"d":165,"s":"MS−NFI","r":0.184},{"d":170,"s":"MS−NFI","r":0.175},{"d":175,"s":"MS−NFI","r":0.167},{"d":180,"s":"MS−NFI","r":0.159},{"d":185,"s":"MS−NFI","r":0.154},{"d":190,"s":"MS−NFI","r":0.146},{"d":195,"s":"MS−NFI","r":0.142},{"d":200,"s":"MS−NFI","r":0.135},{"d":205,"s":"MS−NFI","r":0.13},{"d":210,"s":"MS−NFI","r":0.123},{"d":215,"s":"MS−NFI","r":0.12},{"d":220,"s":"MS−NFI","r":0.112},{"d":225,"s":"MS−NFI","r":0.108},{"d":230,"s":"MS−NFI","r":0.104},{"d":235,"s":"MS−NFI","r":0.1},{"d":240,"s":"MS−NFI","r":0.096},{"d":245,"s":"MS−NFI","r":0.092},{"d":250,"s":"MS−NFI","r":0.088},{"d":255,"s":"MS−NFI","r":0.075},{"d":260,"s":"MS−NFI","r":0.08},{"d":265,"s":"MS−NFI","r":0.07},{"d":270,"s":"MS−NFI","r":0.065},{"d":275,"s":"MS−NFI","r":0.062},{"d":280,"s":"MS−NFI","r":0.058},{"d":285,"s":"MS−NFI","r":0.062},{"d":290,"s":"MS−NFI","r":0.05},{"d":295,"s":"MS−NFI","r":0.055},{"d":300,"s":"MS−NFI","r":0.045},{"d":305,"s":"MS−NFI","r":0.05},{"d":310,"s":"MS−NFI","r":0.038},{"d":315,"s":"MS−NFI","r":0.042},{"d":320,"s":"MS−NFI","r":0.04},{"d":325,"s":"MS−NFI","r":0.03},{"d":330,"s":"MS−NFI","r":0.038},{"d":335,"s":"MS−NFI","r":0.025},{"d":340,"s":"MS−NFI","r":0.04},{"d":345,"s":"MS−NFI","r":0.028},{"d":350,"s":"MS−NFI","r":0.035},{"d":355,"s":"MS−NFI","r":0.024},{"d":360,"s":"MS−NFI","r":0.036},{"d":365,"s":"MS−NFI","r":0.022},{"d":370,"s":"MS−NFI","r":0.03},{"d":375,"s":"MS−NFI","r":0.02},{"d":380,"s":"MS−NFI","r":0.032},{"d":385,"s":"MS−NFI","r":0.024},{"d":390,"s":"MS−NFI","r":0.03},{"d":395,"s":"MS−NFI","r":0.016},{"d":400,"s":"MS−NFI","r":0.028},{"d":405,"s":"MS−NFI","r":0.02},{"d":410,"s":"MS−NFI","r":0.026},{"d":415,"s":"MS−NFI","r":0.018},{"d":420,"s":"MS−NFI","r":0.025},{"d":425,"s":"MS−NFI","r":0.01},{"d":430,"s":"MS−NFI","r":0.02},{"d":435,"s":"MS−NFI","r":0.005},{"d":440,"s":"MS−NFI","r":0.02},{"d":445,"s":"MS−NFI","r":0.022},{"d":450,"s":"MS−NFI","r":0.01},{"d":455,"s":"MS−NFI","r":0.005},{"d":460,"s":"MS−NFI","r":0.018},{"d":465,"s":"MS−NFI","r":0.012},{"d":470,"s":"MS−NFI","r":0.01},{"d":475,"s":"MS−NFI","r":0.008},{"d":480,"s":"MS−NFI","r":0.002},{"d":485,"s":"MS−NFI","r":0.015},{"d":490,"s":"MS−NFI","r":0.0},{"d":495,"s":"MS−NFI","r":0.004},{"d":500,"s":"MS−NFI","r":0.03},
      {"d":0,"s":"3D−MS−NFI","r":1.0},{"d":5,"s":"3D−MS−NFI","r":0.96},{"d":10,"s":"3D−MS−NFI","r":0.92},{"d":15,"s":"3D−MS−NFI","r":0.883},{"d":20,"s":"3D−MS−NFI","r":0.847},{"d":25,"s":"3D−MS−NFI","r":0.81},{"d":30,"s":"3D−MS−NFI","r":0.775},{"d":35,"s":"3D−MS−NFI","r":0.741},{"d":40,"s":"3D−MS−NFI","r":0.708},{"d":45,"s":"3D−MS−NFI","r":0.676},{"d":50,"s":"3D−MS−NFI","r":0.645},{"d":55,"s":"3D−MS−NFI","r":0.616},{"d":60,"s":"3D−MS−NFI","r":0.588},{"d":65,"s":"3D−MS−NFI","r":0.562},{"d":70,"s":"3D−MS−NFI","r":0.537},{"d":75,"s":"3D−MS−NFI","r":0.513},{"d":80,"s":"3D−MS−NFI","r":0.49},{"d":85,"s":"3D−MS−NFI","r":0.468},{"d":90,"s":"3D−MS−NFI","r":0.447},{"d":95,"s":"3D−MS−NFI","r":0.427},{"d":100,"s":"3D−MS−NFI","r":0.408},{"d":105,"s":"3D−MS−NFI","r":0.39},{"d":110,"s":"3D−MS−NFI","r":0.372},{"d":115,"s":"3D−MS−NFI","r":0.355},{"d":120,"s":"3D−MS−NFI","r":0.339},{"d":125,"s":"3D−MS−NFI","r":0.323},{"d":130,"s":"3D−MS−NFI","r":0.308},{"d":135,"s":"3D−MS−NFI","r":0.293},{"d":140,"s":"3D−MS−NFI","r":0.279},{"d":145,"s":"3D−MS−NFI","r":0.265},{"d":150,"s":"3D−MS−NFI","r":0.253},{"d":155,"s":"3D−MS−NFI","r":0.241},{"d":160,"s":"3D−MS−NFI","r":0.229},{"d":165,"s":"3D−MS−NFI","r":0.218},{"d":170,"s":"3D−MS−NFI","r":0.207},{"d":175,"s":"3D−MS−NFI","r":0.197},{"d":180,"s":"3D−MS−NFI","r":0.187},{"d":185,"s":"3D−MS−NFI","r":0.18},{"d":190,"s":"3D−MS−NFI","r":0.172},{"d":195,"s":"3D−MS−NFI","r":0.165},{"d":200,"s":"3D−MS−NFI","r":0.16},{"d":205,"s":"3D−MS−NFI","r":0.152},{"d":210,"s":"3D−MS−NFI","r":0.148},{"d":215,"s":"3D−MS−NFI","r":0.138},{"d":220,"s":"3D−MS−NFI","r":0.132},{"d":225,"s":"3D−MS−NFI","r":0.125},{"d":230,"s":"3D−MS−NFI","r":0.12},{"d":235,"s":"3D−MS−NFI","r":0.115},{"d":240,"s":"3D−MS−NFI","r":0.11},{"d":245,"s":"3D−MS−NFI","r":0.105},{"d":250,"s":"3D−MS−NFI","r":0.102},{"d":255,"s":"3D−MS−NFI","r":0.09},{"d":260,"s":"3D−MS−NFI","r":0.095},{"d":265,"s":"3D−MS−NFI","r":0.08},{"d":270,"s":"3D−MS−NFI","r":0.082},{"d":275,"s":"3D−MS−NFI","r":0.078},{"d":280,"s":"3D−MS−NFI","r":0.07},{"d":285,"s":"3D−MS−NFI","r":0.072},{"d":290,"s":"3D−MS−NFI","r":0.062},{"d":295,"s":"3D−MS−NFI","r":0.066},{"d":300,"s":"3D−MS−NFI","r":0.06},{"d":305,"s":"3D−MS−NFI","r":0.058},{"d":310,"s":"3D−MS−NFI","r":0.052},{"d":315,"s":"3D−MS−NFI","r":0.055},{"d":320,"s":"3D−MS−NFI","r":0.042},{"d":325,"s":"3D−MS−NFI","r":0.05},{"d":330,"s":"3D−MS−NFI","r":0.044},{"d":335,"s":"3D−MS−NFI","r":0.038},{"d":340,"s":"3D−MS−NFI","r":0.048},{"d":345,"s":"3D−MS−NFI","r":0.035},{"d":350,"s":"3D−MS−NFI","r":0.045},{"d":355,"s":"3D−MS−NFI","r":0.034},{"d":360,"s":"3D−MS−NFI","r":0.044},{"d":365,"s":"3D−MS−NFI","r":0.032},{"d":370,"s":"3D−MS−NFI","r":0.04},{"d":375,"s":"3D−MS−NFI","r":0.03},{"d":380,"s":"3D−MS−NFI","r":0.042},{"d":385,"s":"3D−MS−NFI","r":0.03},{"d":390,"s":"3D−MS−NFI","r":0.036},{"d":395,"s":"3D−MS−NFI","r":0.028},{"d":400,"s":"3D−MS−NFI","r":0.038},{"d":405,"s":"3D−MS−NFI","r":0.025},{"d":410,"s":"3D−MS−NFI","r":0.034},{"d":415,"s":"3D−MS−NFI","r":0.026},{"d":420,"s":"3D−MS−NFI","r":0.03},{"d":425,"s":"3D−MS−NFI","r":0.018},{"d":430,"s":"3D−MS−NFI","r":0.026},{"d":435,"s":"3D−MS−NFI","r":0.012},{"d":440,"s":"3D−MS−NFI","r":0.028},{"d":445,"s":"3D−MS−NFI","r":0.03},{"d":450,"s":"3D−MS−NFI","r":0.014},{"d":455,"s":"3D−MS−NFI","r":0.03},{"d":460,"s":"3D−MS−NFI","r":0.022},{"d":465,"s":"3D−MS−NFI","r":0.02},{"d":470,"s":"3D−MS−NFI","r":0.018},{"d":475,"s":"3D−MS−NFI","r":0.02},{"d":480,"s":"3D−MS−NFI","r":0.01},{"d":485,"s":"3D−MS−NFI","r":0.022},{"d":490,"s":"3D−MS−NFI","r":0.008},{"d":495,"s":"3D−MS−NFI","r":0.004},{"d":500,"s":"3D−MS−NFI","r":0.04}
    ]
  },
  "vconcat": [
    {
      "title": {"text": "Pine volume"},
      "width": 813, "height": 157,
      "data": {"name": "pine"},
      "mark": {"type": "line", "strokeWidth": 3},
      "encoding": {
        "x": {"field": "d", "type": "quantitative", "scale": {"domain": [-20, 520], "nice": false, "zero": false}, "axis": {"values": [0, 100, 200, 300, 400, 500], "title": "Distance (m)", "labelPadding": 1, "titlePadding": 14}},
        "y": {"field": "r", "type": "quantitative", "scale": {"domain": [-0.035, 1.04], "nice": false, "zero": false}, "axis": {"values": [0, 0.2, 0.4, 0.6, 0.8, 1.0], "labelExpr": "(abs(datum.value) < 0.01 || abs(datum.value - 0.4) < 0.01 || abs(datum.value - 0.8) < 0.01) ? format(datum.value, '.1f') : ''", "labelAngle": 270, "labelAlign": "center", "labelBaseline": "alphabetic", "labelPadding": 14, "labelFontSize": 22, "title": "Correlation", "titlePadding": 9}},
        "color": {"field": "s", "type": "nominal", "sort": null, "scale": {"domain": ["MS−NFI", "3D−MS−NFI"], "range": ["#9a9a9a", "#1c1c1c"]}, "legend": {"title": null, "orient": "top-right", "offset": 25, "symbolType": "M-2,0H2", "symbolSize": 600, "symbolStrokeWidth": 3, "labelFontSize": 25, "labelFont": "Liberation Sans", "labelColor": "#222222", "labelOffset": 32, "rowPadding": 9, "padding": 0}}
      }
    },
    {
      "title": {"text": "Spruce volume"},
      "width": 813, "height": 157,
      "data": {"name": "spruce"},
      "mark": {"type": "line", "strokeWidth": 3},
      "encoding": {
        "x": {"field": "d", "type": "quantitative", "scale": {"domain": [-20, 520], "nice": false, "zero": false}, "axis": {"values": [0, 100, 200, 300, 400, 500], "title": "Distance (m)", "labelPadding": 1, "titlePadding": 14}},
        "y": {"field": "r", "type": "quantitative", "scale": {"domain": [-0.035, 1.04], "nice": false, "zero": false}, "axis": {"values": [0, 0.2, 0.4, 0.6, 0.8, 1.0], "labelExpr": "(abs(datum.value) < 0.01 || abs(datum.value - 0.4) < 0.01 || abs(datum.value - 0.8) < 0.01) ? format(datum.value, '.1f') : ''", "labelAngle": 270, "labelAlign": "center", "labelBaseline": "alphabetic", "labelPadding": 14, "labelFontSize": 22, "title": "Correlation", "titlePadding": 9}},
        "color": {"field": "s", "type": "nominal", "sort": null, "scale": {"domain": ["MS−NFI", "3D−MS−NFI"], "range": ["#9a9a9a", "#1c1c1c"]}, "legend": null}
      }
    },
    {
      "title": {"text": "Broadleaved volume"},
      "width": 813, "height": 157,
      "data": {"name": "broad"},
      "mark": {"type": "line", "strokeWidth": 3},
      "encoding": {
        "x": {"field": "d", "type": "quantitative", "scale": {"domain": [-20, 520], "nice": false, "zero": false}, "axis": {"values": [0, 100, 200, 300, 400, 500], "title": "Distance (m)", "labelPadding": 1, "titlePadding": 14}},
        "y": {"field": "r", "type": "quantitative", "scale": {"domain": [-0.035, 1.04], "nice": false, "zero": false}, "axis": {"values": [0, 0.2, 0.4, 0.6, 0.8, 1.0], "labelExpr": "(abs(datum.value) < 0.01 || abs(datum.value - 0.4) < 0.01 || abs(datum.value - 0.8) < 0.01) ? format(datum.value, '.1f') : ''", "labelAngle": 270, "labelAlign": "center", "labelBaseline": "alphabetic", "labelPadding": 14, "labelFontSize": 22, "title": "Correlation", "titlePadding": 9}},
        "color": {"field": "s", "type": "nominal", "sort": null, "scale": {"domain": ["MS−NFI", "3D−MS−NFI"], "range": ["#9a9a9a", "#1c1c1c"]}, "legend": null}
      }
    },
    {
      "title": {"text": "Total volume"},
      "width": 813, "height": 157,
      "data": {"name": "total"},
      "mark": {"type": "line", "strokeWidth": 3},
      "encoding": {
        "x": {"field": "d", "type": "quantitative", "scale": {"domain": [-20, 520], "nice": false, "zero": false}, "axis": {"values": [0, 100, 200, 300, 400, 500], "title": "Distance (m)", "labelPadding": 1, "titlePadding": 14}},
        "y": {"field": "r", "type": "quantitative", "scale": {"domain": [-0.035, 1.04], "nice": false, "zero": false}, "axis": {"values": [0, 0.2, 0.4, 0.6, 0.8, 1.0], "labelExpr": "(abs(datum.value) < 0.01 || abs(datum.value - 0.4) < 0.01 || abs(datum.value - 0.8) < 0.01) ? format(datum.value, '.1f') : ''", "labelAngle": 270, "labelAlign": "center", "labelBaseline": "alphabetic", "labelPadding": 14, "labelFontSize": 22, "title": "Correlation", "titlePadding": 9}},
        "color": {"field": "s", "type": "nominal", "sort": null, "scale": {"domain": ["MS−NFI", "3D−MS−NFI"], "range": ["#9a9a9a", "#1c1c1c"]}, "legend": null}
      }
    },
    {
      "title": {"text": "Average height"},
      "width": 813, "height": 157,
      "data": {"name": "height"},
      "mark": {"type": "line", "strokeWidth": 3},
      "encoding": {
        "x": {"field": "d", "type": "quantitative", "scale": {"domain": [-20, 520], "nice": false, "zero": false}, "axis": {"values": [0, 100, 200, 300, 400, 500], "title": "Distance (m)", "labelPadding": 1, "titlePadding": 14}},
        "y": {"field": "r", "type": "quantitative", "scale": {"domain": [-0.035, 1.04], "nice": false, "zero": false}, "axis": {"values": [0, 0.2, 0.4, 0.6, 0.8, 1.0], "labelExpr": "(abs(datum.value) < 0.01 || abs(datum.value - 0.4) < 0.01 || abs(datum.value - 0.8) < 0.01) ? format(datum.value, '.1f') : ''", "labelAngle": 270, "labelAlign": "center", "labelBaseline": "alphabetic", "labelPadding": 14, "labelFontSize": 22, "title": "Correlation", "titlePadding": 9}},
        "color": {"field": "s", "type": "nominal", "sort": null, "scale": {"domain": ["MS−NFI", "3D−MS−NFI"], "range": ["#9a9a9a", "#1c1c1c"]}, "legend": null}
      }
    }
  ]
}
